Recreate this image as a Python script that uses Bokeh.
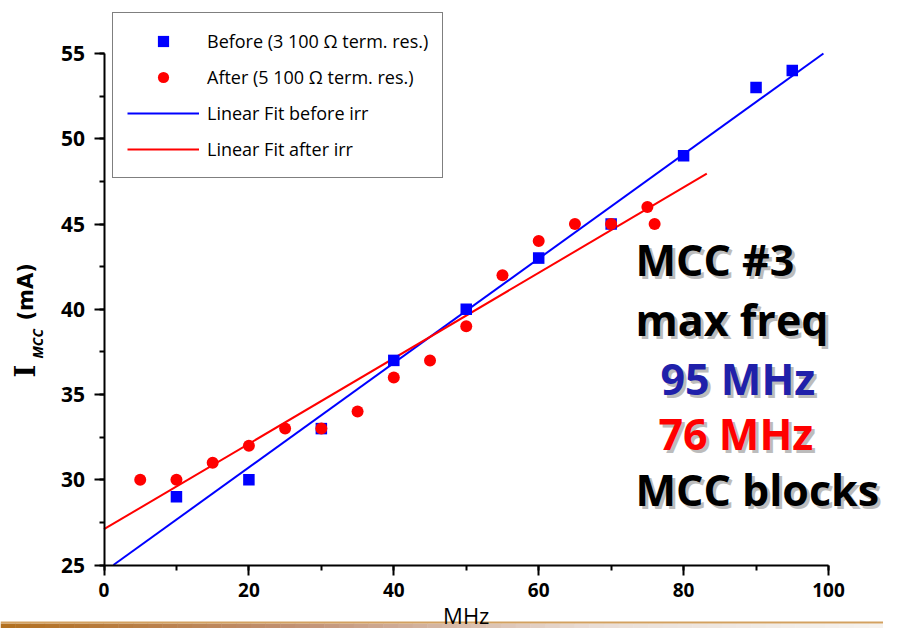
import math
from bokeh.plotting import figure
from bokeh.models import (Label, Legend, LegendItem, SingleIntervalTicker,
                          BoxAnnotation, Range1d)
from bokeh.embed import file_html
from bokeh.resources import INLINE

# ---------------- data ----------------
before_mhz = [10, 20, 30, 40, 50, 60, 70, 80, 90, 95]
before_ma = [29, 30, 33, 37, 40, 43, 45, 49, 53, 54]

after_mhz = [5, 10, 15, 20, 25, 30, 35, 40, 45, 50, 55, 60, 65, 70, 75, 76]
after_ma = [30, 30, 31, 32, 33, 33, 34, 36, 37, 39, 42, 44, 45, 45, 46, 45]

fit_before_mhz = [1.3, 99.3]
fit_before_ma = [25.0, 55.0]
fit_after_mhz = [0.0, 83.2]
fit_after_ma = [27.1, 47.95]

legend_labels = ["Before (3 100 \u03a9 term. res.)",
                 "After (5 100 \u03a9 term. res.)",
                 "Linear Fit before irr",
                 "Linear Fit after irr"]
note_lines = ["MCC #3", "max freq", "95 MHz", "76 MHz", "MCC blocks"]
x_label = "MHz"
y_label_main, y_label_sub, y_label_unit = "I", "MCC", "(mA)"

# ---------------- layout (pixels) ----------------
W, H = 883, 628
X0_PX, X1_PX = 103.5, 828.0      # where x = 0 and x = 100 sit
Y0_PX, Y1_PX = 564.5, 53.0       # where y = 25 and y = 55 sit (from top)
xs = (X1_PX - X0_PX) / 100.0
ys = (Y0_PX - Y1_PX) / 30.0
x_range = Range1d(0 - X0_PX / xs, 100 + (W - X1_PX) / xs)
y_range = Range1d(25 - (H - Y0_PX) / ys, 55 + Y1_PX / ys)

p = figure(width=W, height=H, x_range=x_range, y_range=y_range,
           output_backend="svg", toolbar_location=None, min_border=0,
           background_fill_color="white", border_fill_color="white",
           outline_line_color=None)
p.xgrid.visible = False
p.ygrid.visible = False

p.xaxis.fixed_location = 25
p.yaxis.fixed_location = 0
p.xaxis.bounds = (0, 100)
p.yaxis.bounds = (25, 55)
p.xaxis.ticker = SingleIntervalTicker(interval=20, num_minor_ticks=2)
p.yaxis.ticker = SingleIntervalTicker(interval=5, num_minor_ticks=2)
for ax in (p.xaxis[0], p.yaxis[0]):
    ax.axis_line_width = 2
    ax.axis_line_color = "black"
    ax.major_tick_line_width = 2
    ax.minor_tick_line_width = 2
    ax.major_tick_line_color = "black"
    ax.minor_tick_line_color = "black"
    ax.major_tick_out = 10
    ax.major_tick_in = 0
    ax.minor_tick_out = 5
    ax.minor_tick_in = 0
    ax.major_label_text_font = "Open Sans"
    ax.major_label_text_font_style = "bold"
    ax.major_label_text_color = "black"
p.xaxis.major_label_text_font_size = "19px"
p.yaxis.major_label_text_font_size = "21px"
p.xaxis.major_label_standoff = 8
p.yaxis.major_label_standoff = 9

# ---------------- glyphs ----------------
r_fb = p.line(fit_before_mhz, fit_before_ma, line_color="#0000ff", line_width=2)
r_fa = p.line(fit_after_mhz, fit_after_ma, line_color="#ff0000", line_width=2)
r_b = p.scatter(before_mhz, before_ma, marker="square", size=11.5,
                fill_color="#0000ff", line_color=None)
r_a = p.scatter(after_mhz, after_ma, marker="circle", size=12,
                fill_color="#ff0000", line_color=None)

legend = Legend(items=[LegendItem(label=legend_labels[0], renderers=[r_b]),
                       LegendItem(label=legend_labels[1], renderers=[r_a]),
                       LegendItem(label=legend_labels[2], renderers=[r_fb]),
                       LegendItem(label=legend_labels[3], renderers=[r_fa])],
                location=(112, H - 178), padding=14, spacing=8, margin=0,
                glyph_height=28, glyph_width=72, label_height=28,
                label_standoff=8, label_text_font="Open Sans",
                label_text_font_size="18px", label_text_color="black",
                border_line_color="black", border_line_width=1.5,
                background_fill_color="white", background_fill_alpha=1)
p.add_layout(legend)

# ---------------- annotation text with shadow ----------------
NOTE_SIZE = 43
def shadow_label(text, sx, base_y, color):
    sy = H - base_y + 0.4 * NOTE_SIZE
    for dx, dy, c in ((3, -3, "#bcbcbc"), (0, 0, color)):
        p.add_layout(Label(x=sx + dx, y=sy + dy, x_units="screen", y_units="screen",
                           text=text, text_color=c, text_font="Open Sans",
                           text_font_style="bold", text_font_size="%dpx" % NOTE_SIZE,
                           text_align="left", text_baseline="alphabetic"))

shadow_label(note_lines[0], 635, 276, "black")
shadow_label(note_lines[1], 635, 336, "black")
shadow_label(note_lines[2], 660, 395, "#2020aa")
shadow_label(note_lines[3], 658, 450, "#ff0000")
shadow_label(note_lines[4], 635, 506, "black")

# ---------------- axis titles ----------------
p.add_layout(Label(x=25, y=H - 377, x_units="screen", y_units="screen", angle=math.pi / 2,
                   text=y_label_main, text_font="DejaVu Serif", text_font_style="bold",
                   text_font_size="27px", text_color="black",
                   text_align="left", text_baseline="alphabetic"))
p.add_layout(Label(x=37, y=H - 358, x_units="screen", y_units="screen", angle=math.pi / 2,
                   text=y_label_sub, text_font="Open Sans", text_font_style="bold italic",
                   text_font_size="14px", text_color="black",
                   text_align="left", text_baseline="alphabetic"))
p.add_layout(Label(x=25, y=H - 320, x_units="screen", y_units="screen", angle=math.pi / 2,
                   text=y_label_unit, text_font="DejaVu Sans", text_font_style="bold",
                   text_font_size="21px", text_color="black",
                   text_align="left", text_baseline="alphabetic"))

p.add_layout(Label(x=(X0_PX + X1_PX) / 2, y=14, x_units="screen", y_units="screen",
                   text=x_label, text_font="Open Sans", text_font_size="22px",
                   text_color="black", text_align="center", text_baseline="alphabetic"))

# ---------------- decorative slide bar at the bottom ----------------
stops = [(0.0, (178, 111, 30)), (0.33, (193, 144, 114)),
         (0.67, (233, 221, 213)), (1.0, (246, 243, 238))]

def grad(t):
    for (t0, c0), (t1, c1) in zip(stops[:-1], stops[1:]):
        if t <= t1:
            f = (t - t0) / (t1 - t0)
            return "#%02x%02x%02x" % tuple(int(round(a + (b - a) * f)) for a, b in zip(c0, c1))
    return "#%02x%02x%02x" % stops[-1][1]

nseg = 60
for i in range(nseg):
    l = W * i / nseg
    r = W * (i + 1) / nseg + 0.5
    p.add_layout(BoxAnnotation(left=l, right=r, top=5, bottom=0,
                               left_units="screen", right_units="screen",
                               top_units="screen", bottom_units="screen",
                               fill_color=grad((i + 0.5) / nseg), fill_alpha=1,
                               line_color=None, level="underlay"))
p.add_layout(BoxAnnotation(left=0, right=W, top=7, bottom=5,
                           left_units="screen", right_units="screen",
                           top_units="screen", bottom_units="screen",
                           fill_color="#d3a160", fill_alpha=1, line_color=None,
                           level="underlay"))

open("out.html", "w").write(file_html(p, INLINE))
